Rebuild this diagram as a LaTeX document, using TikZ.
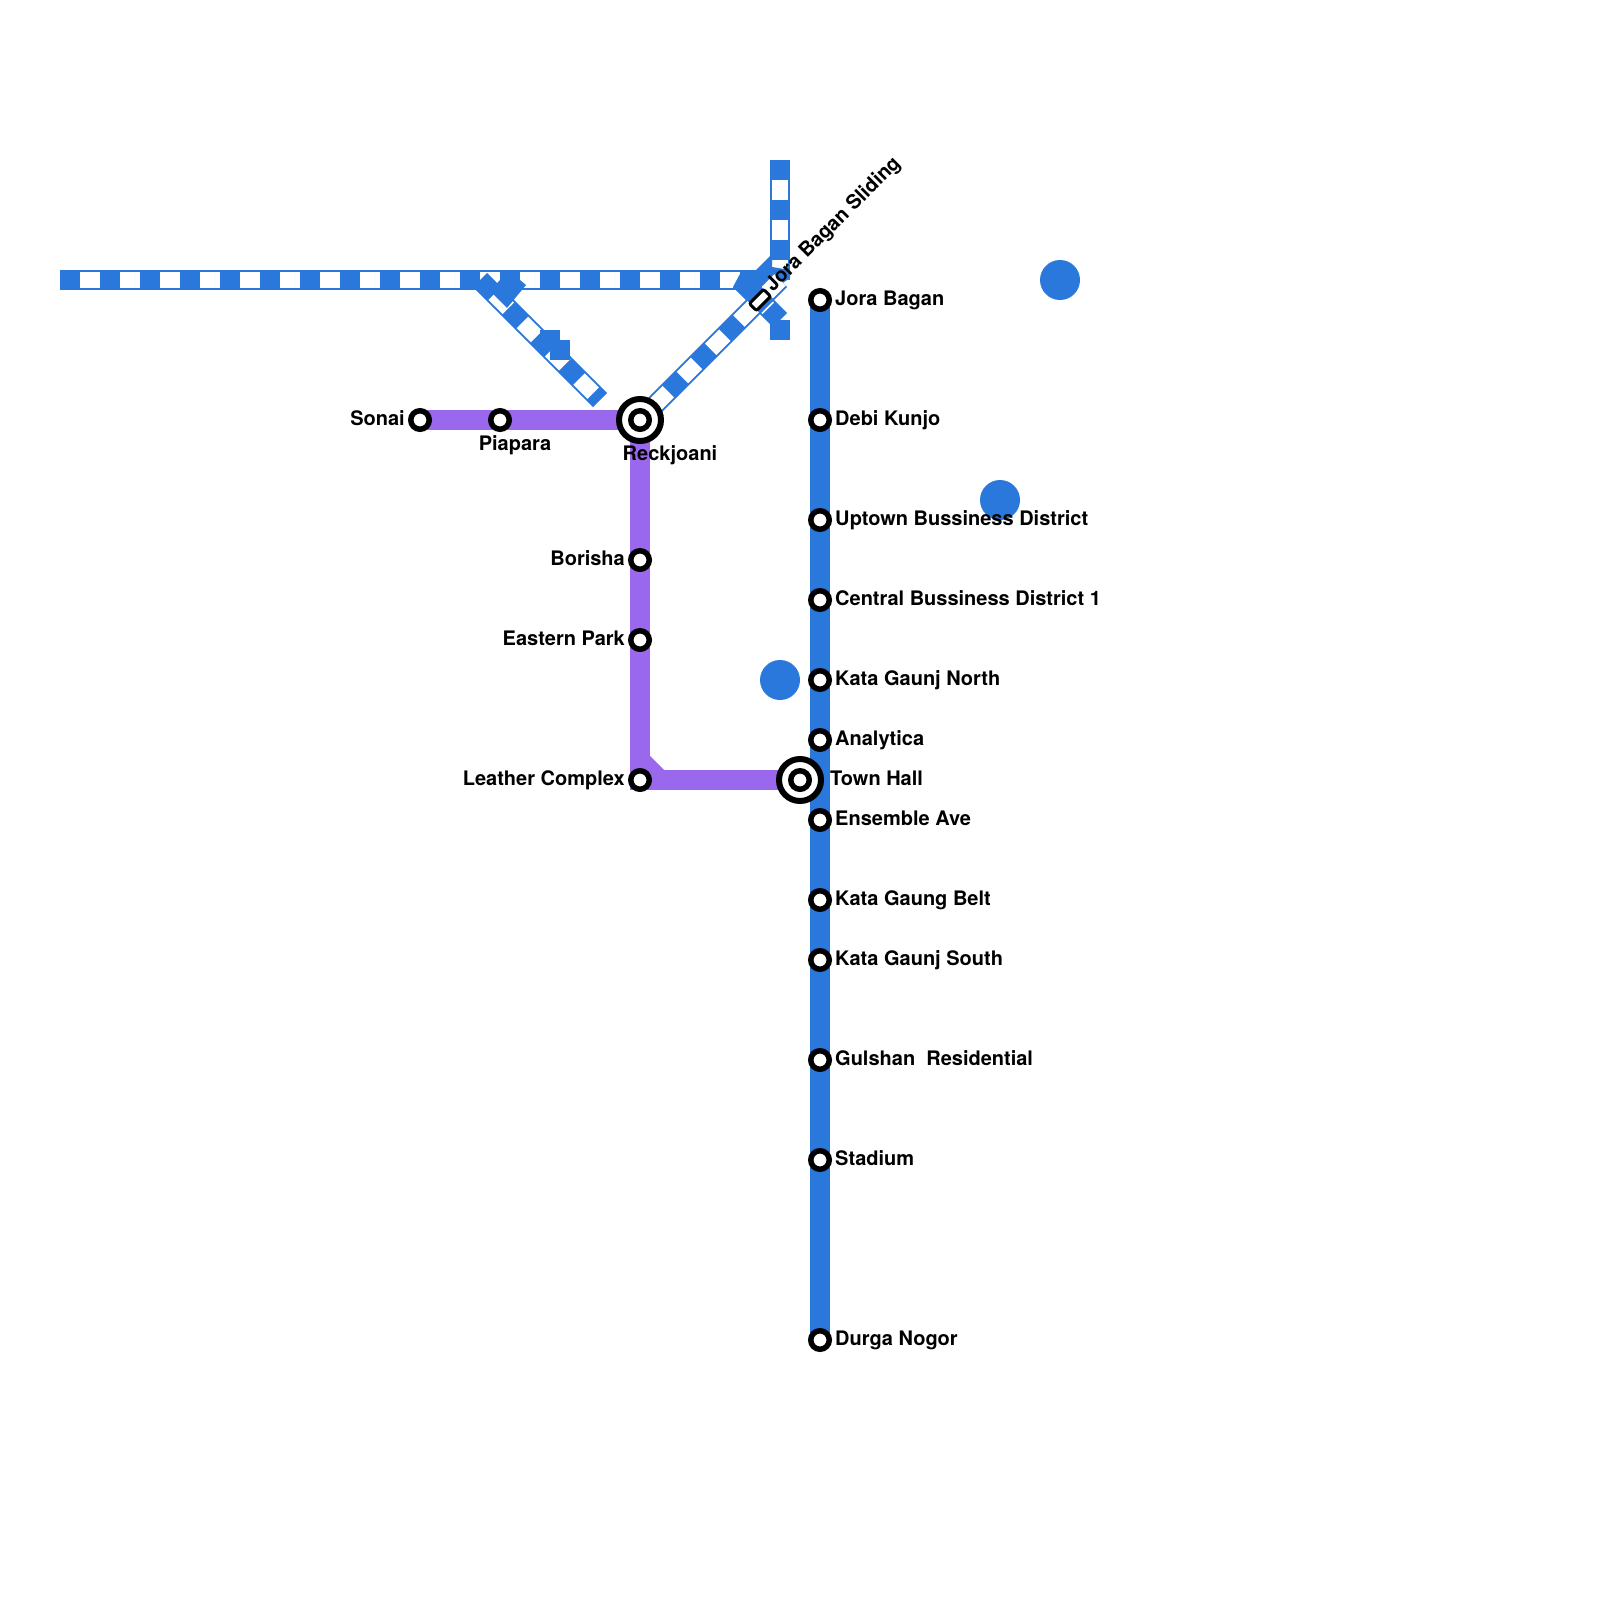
\documentclass[tikz,border=0pt]{standalone}
\usepackage{fontspec}
\setmainfont{TeX Gyre Heros}
\usepackage{xcolor}
\usetikzlibrary{positioning, backgrounds}
\definecolor{lineblue}{HTML}{2B78DC}
\definecolor{linepurple}{HTML}{9968EC}

\begin{document}
\begin{tikzpicture}[
    x=1pt, y=-1pt,
    stationdot/.style={circle, draw=black, fill=white, line width=5.5pt, minimum size=18.5pt, inner sep=0pt},
    hubring/.style={circle, draw=black, fill=white, line width=6pt, minimum size=42pt, inner sep=0pt},
    sliding/.style={rectangle, rounded corners=2pt, draw=black, fill=white, line width=3pt, minimum width=20pt, minimum height=10pt, inner sep=0pt, rotate=45},
    stlabel/.style={font=\fontsize{20}{24}\selectfont\bfseries, inner sep=0pt, text height=15pt, text depth=4pt},
    blueline/.style={line width=20pt, draw=lineblue},
    purpleline/.style={line width=20pt, draw=linepurple},
    dashline/.style={line width=20pt, draw=lineblue, postaction={draw=white, line width=16pt, dash pattern=on 20pt off 20pt, dash phase=20pt}},
    bigdot/.style={circle, fill=lineblue, minimum size=40pt, inner sep=0pt},
]
\useasboundingbox (0,0) rectangle (1600,1600);

% --- blue line stations ---
\foreach \i/\yp/\lab in {0/300/Jora Bagan, 1/420/Debi Kunjo, 2/520/Uptown Bussiness District,
    3/600/Central Bussiness District 1, 4/680/Kata Gaunj North, 5/740/Analytica,
    6/820/Ensemble Ave, 7/900/Kata Gaung Belt, 8/960/Kata Gaunj South,
    9/1060/Gulshan\ \ Residential, 10/1160/Stadium, 11/1340/Durga Nogor} {
    \node[stationdot] (st\i) at (820, \yp) {};
    \node[stlabel, anchor=west] (lb\i) at (835, \yp) {\lab};
}

% --- purple line stations ---
\node[hubring] (hubR) at (640, 420) {};
\node[stationdot] (hubRin) at (640, 420) {};
\node[hubring] (hubT) at (800, 780) {};
\node[stationdot] (hubTin) at (800, 780) {};
\node[stationdot] (sonai) at (420, 420) {};
\node[stationdot] (piapara) at (500, 420) {};
\node[stationdot] (borisha) at (640, 560) {};
\node[stationdot] (eastern) at (640, 640) {};
\node[stationdot] (leather) at (640, 780) {};

\node[stlabel, anchor=east] (lbsonai) at (405, 420) {Sonai};
\node[stlabel, anchor=east] (lbborisha) at (625, 560) {Borisha};
\node[stlabel, anchor=east] (lbeastern) at (625, 640) {Eastern Park};
\node[stlabel, anchor=east] (lbleather) at (625, 780) {Leather Complex};
\node[stlabel] (lbpiapara) at (515, 445) {Piapara};
\node[stlabel] (lbreck) at (670, 455) {Reckjoani};
\node[stlabel, anchor=west] (lbtown) at (830, 780) {Town Hall};

% --- sliding station ---
\node[sliding] (slide) at (760, 300) {};
\node[stlabel, anchor=west, rotate=45] (lbslide) at (769, 289) {Jora Bagan Sliding};

% --- line ends ---
\coordinate (hA) at (60, 280);
\coordinate (hB) at (780, 280);
\coordinate (vA) at (780, 160);
\coordinate (vB) at (780, 280);
\coordinate (dA) at (480, 280);
\coordinate (dB) at (600, 400);
\coordinate (eA) at (740, 280);
\coordinate (eB) at (780, 320);
\coordinate (eC) at (780, 340);
\coordinate (fB) at (780, 280);
\coordinate (bendA) at (640, 760);
\coordinate (bendB) at (660, 780);

\begin{scope}[on background layer]
    % big dots
    \node[bigdot] (dotA) at (1060, 280) {};
    \node[bigdot] (dotB) at (1000, 500) {};
    \node[bigdot] (dotC) at (780, 680) {};

    % solid lines
    \draw[blueline] (st0.center) -- (st11.center);
    \draw[purpleline] (sonai.center) -- (hubR.center);
    \draw[purpleline] (hubR.center) -- (leather.center) -- (hubT.center);
    \draw[purpleline] (bendA) -- (bendB);

    % dashed lines
    \draw[dashline] (hA) -- (hB);
    \draw[dashline] (vA) -- (vB);
    \draw[dashline] (dA) -- (dB);
    \draw[dashline] (eA) -- (eB);
    \draw[blueline] (eB) -- (eC);

    % lumps on the dashed lines
    \fill[lineblue] (500,280) -- (520,280) -- (526,285) -- (507,308) -- (490,291) -- cycle;
    \fill[lineblue] (540,330) rectangle (560,350);
    \fill[lineblue] (550,340) rectangle (570,360);
    \fill[lineblue] (733,287) -- (741,272) -- (741,270) -- (756,270) -- (770,256) -- (772,260)
        -- (772,267) -- (790,270) -- (790,278) -- (780,285) -- (750,303) -- cycle;

    \draw[dashline] (hubR.center) -- (fB);
\end{scope}
\end{tikzpicture}
\end{document}
